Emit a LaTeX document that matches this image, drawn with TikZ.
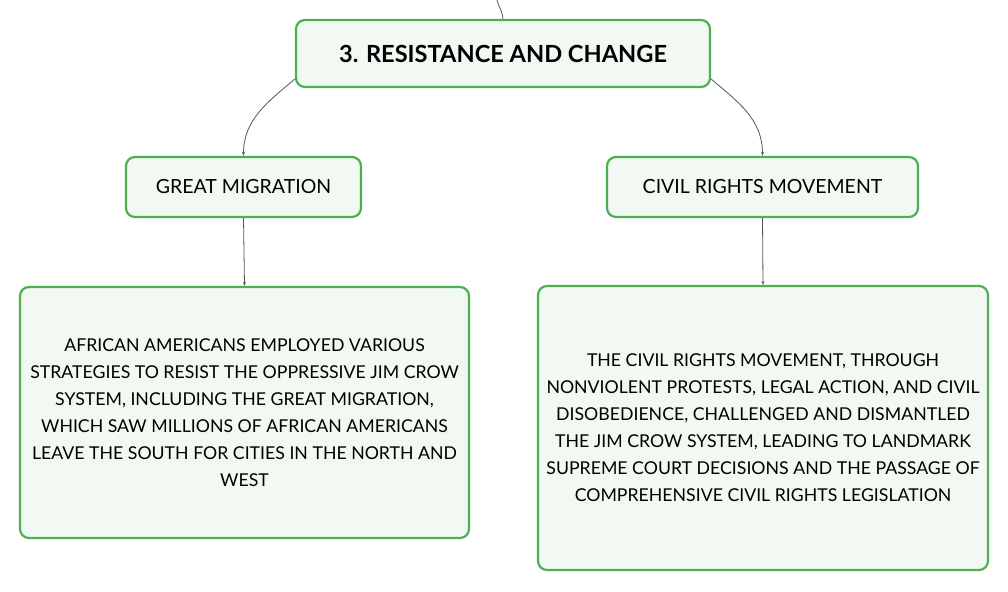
\documentclass[tikz,border=0pt]{standalone}
\usepackage{fontspec}
\setmainfont{Lato}
\usetikzlibrary{arrows.meta,positioning}
\definecolor{boxgreen}{HTML}{4CAF50}
\definecolor{boxfill}{HTML}{F2F9F3}
\definecolor{linkgray}{HTML}{555555}
\tikzset{
    topic/.style={draw=boxgreen, fill=boxfill, line width=2.2pt, rounded corners=9pt, align=center},
    link/.style={draw=linkgray, line width=0.8pt, -{Stealth[length=4pt,width=3pt]}}
}

\begin{document}
\begin{tikzpicture}[x=1pt, y=1pt]
                        \useasboundingbox (0, 0) rectangle (1008, -591);
                        \node[topic, minimum width=414pt, minimum height=67pt, font=\bfseries\fontsize{23.6}{28}\selectfont] (title) at (503, -53.5) {3. RESISTANCE AND CHANGE};
                        \node[topic, minimum width=235pt, minimum height=60pt, font=\fontsize{19.5}{23}\selectfont] (gm) at (243.5, -187) {GREAT MIGRATION};
                        \node[topic, minimum width=311pt, minimum height=60pt, font=\fontsize{19.5}{23}\selectfont] (crm) at (762.5, -187) {CIVIL RIGHTS MOVEMENT};
                        \node[topic, minimum width=449pt, minimum height=251pt, font=\fontsize{17.7}{27}\selectfont] (gmtext) at (244.5, -412.5) {AFRICAN AMERICANS EMPLOYED VARIOUS\\STRATEGIES TO RESIST THE OPPRESSIVE JIM CROW\\SYSTEM, INCLUDING THE GREAT MIGRATION,\\WHICH SAW MILLIONS OF AFRICAN AMERICANS\\LEAVE THE SOUTH FOR CITIES IN THE NORTH AND\\WEST};
                        \node[topic, minimum width=450pt, minimum height=284pt, font=\fontsize{17.7}{27}\selectfont] (crmtext) at (763, -428) {THE CIVIL RIGHTS MOVEMENT, THROUGH\\NONVIOLENT PROTESTS, LEGAL ACTION, AND CIVIL\\DISOBEDIENCE, CHALLENGED AND DISMANTLED\\THE JIM CROW SYSTEM, LEADING TO LANDMARK\\SUPREME COURT DECISIONS AND THE PASSAGE OF\\COMPREHENSIVE CIVIL RIGHTS LEGISLATION};
                        \coordinate (parent) at (497, 0);
                        \draw[linkgray, line width=0.8pt] (parent) to[out=-75, in=95] (title.north);
                        \draw
                        (title.187) edge[link, out=220, in=90] (gm.north)
                        (title.-7) edge[link, out=-40, in=90] (crm.north)
                        (gm.south) edge[link] (gmtext.north)
                        (crm.south) edge[link] (crmtext.north);
                    \end{tikzpicture}
\end{document}
